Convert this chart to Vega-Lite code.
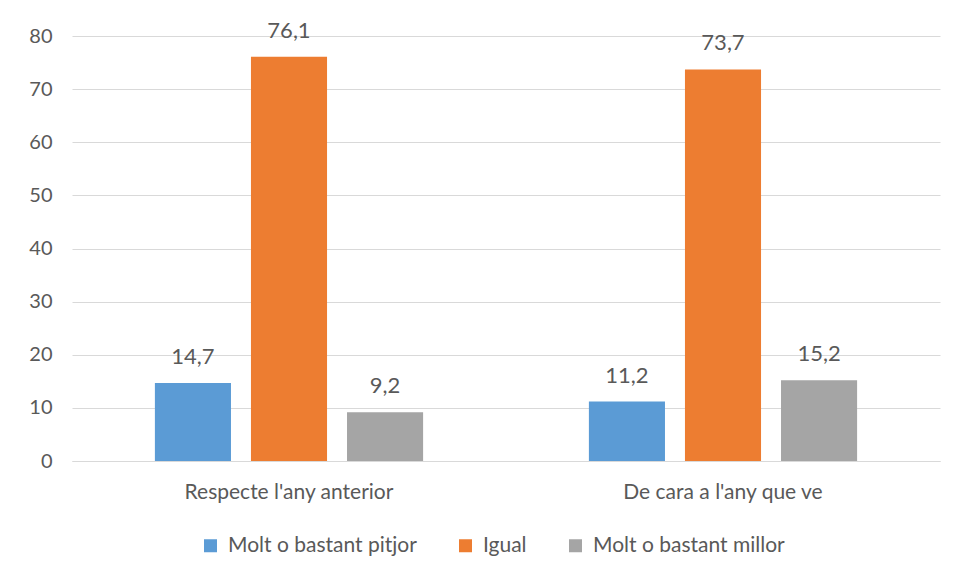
{
  "$schema": "https://vega.github.io/schema/vega-lite/v6.json",
  "autosize": "none",
  "width": 868,
  "height": 425,
  "padding": {"left": 72, "top": 36, "right": 18, "bottom": 118},
  "background": "white",
  "config": {
    "locale": {"number": {"decimal": ",", "thousands": ".", "grouping": [3], "currency": ["", " €"]}},
    "view": {"stroke": null},
    "font": "Lato",
    "axis": {"labelColor": "#595959", "labelFont": "Lato", "labelFontSize": 20, "domain": false, "ticks": false, "title": null, "labelLimit": 400}
  },
  "data": {
    "values": [
      {"grup": "Respecte l'any anterior", "serie": "Molt o bastant pitjor", "valor": 14.7},
      {"grup": "Respecte l'any anterior", "serie": "Igual", "valor": 76.1},
      {"grup": "Respecte l'any anterior", "serie": "Molt o bastant millor", "valor": 9.2},
      {"grup": "De cara a l'any que ve", "serie": "Molt o bastant pitjor", "valor": 11.2},
      {"grup": "De cara a l'any que ve", "serie": "Igual", "valor": 73.7},
      {"grup": "De cara a l'any que ve", "serie": "Molt o bastant millor", "valor": 15.2}
    ]
  },
  "encoding": {
    "x": {
      "field": "grup", "type": "nominal", "sort": ["Respecte l'any anterior", "De cara a l'any que ve"],
      "scale": {"paddingInner": 0.382, "paddingOuter": 0.191},
      "axis": {"labelAngle": 0, "labelPadding": 20, "labelFontSize": 21, "grid": false, "domain": true, "domainColor": "#D9D9D9", "domainWidth": 1}
    },
    "xOffset": {
      "field": "serie", "type": "nominal", "sort": ["Molt o bastant pitjor", "Igual", "Molt o bastant millor"],
      "scale": {"paddingInner": 0.208, "paddingOuter": 0}
    },
    "y": {
      "field": "valor", "type": "quantitative",
      "scale": {"domain": [0, 80]},
      "axis": {"values": [0, 10, 20, 30, 40, 50, 60, 70, 80], "grid": true, "gridColor": "#D9D9D9", "labelPadding": 20}
    }
  },
  "layer": [
    {
      "mark": {"type": "bar"},
      "encoding": {
        "color": {
          "field": "serie", "type": "nominal", "sort": ["Molt o bastant pitjor", "Igual", "Molt o bastant millor"],
          "scale": {"domain": ["Molt o bastant pitjor", "Igual", "Molt o bastant millor"], "range": ["#5B9BD5", "#ED7D31", "#A5A5A5"]},
          "legend": {
            "title": null, "orient": "none", "direction": "horizontal", "legendX": 128, "legendY": 499,
            "symbolType": "square", "symbolSize": 169, "symbolStrokeWidth": 0, "symbolOffset": 0,
            "labelFont": "Lato", "labelFontSize": 21, "labelColor": "#595959", "labelOffset": 7,
            "columnPadding": 38, "labelLimit": 400
          }
        }
      }
    },
    {
      "mark": {"type": "text", "baseline": "alphabetic", "dy": -19, "fontSize": 22, "color": "#595959", "font": "Lato"},
      "encoding": {
        "text": {"field": "valor", "type": "quantitative", "format": ".1f"}
      }
    }
  ]
}
